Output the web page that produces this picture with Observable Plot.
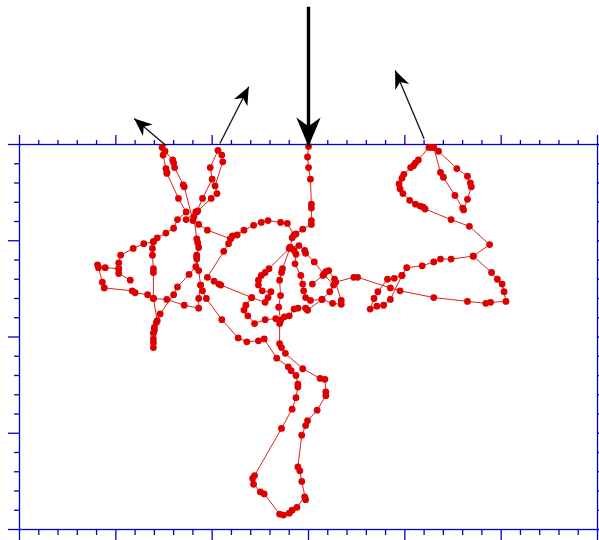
<!DOCTYPE html>
<html>
<head>
<meta charset="utf-8">
<script src="https://cdn.jsdelivr.net/npm/d3@7"></script>
<script src="https://cdn.jsdelivr.net/npm/@observablehq/plot@0.6"></script>
<style>
  html, body { margin: 0; padding: 0; background: #fff; }
</style>
</head>
<body>
<div id="chart"></div>
<script>
// Dive track, in metres: x = horizontal offset from the entry point, y = depth below the surface.
// Each piece is one continuous stretch of the recorded track as [x, depth] fixes.
const descent = [[0.0,0.2],[-0.1,1.3],[0.0,2.4],[0.2,3.6],[0.3,6.2],[0.3,6.6],[0.3,7.9],[0.3,8.3],[-0.6,8.8],[-1.3,9.3],[-1.7,9.7],[-1.9,10.7]];
const arc = [[-1.5,9.4],[-2.2,8.2],[-2.9,8.1],[-4.2,7.9],[-4.9,8.1],[-5.7,8.4],[-6.7,8.9],[-7.4,9.4],[-7.9,9.5],[-8.1,9.8],[-10.5,8.9],[-11.4,8.3],[-12.0,7.9],[-12.9,4.4],[-13.0,4.2],[-13.9,2.4],[-14.0,1.9],[-14.1,1.6],[-14.9,0.7],[-15.2,0.3],[-15.1,1.1],[-14.8,2.5],[-14.7,2.9],[-14.7,3.0],[-13.5,5.6],[-12.7,7.0],[-13.6,7.8],[-14.0,8.7],[-14.8,9.2],[-15.7,9.7],[-16.1,10.1],[-17.1,10.3],[-18.2,10.8],[-19.5,11.5],[-19.7,12.3],[-19.7,12.9],[-19.7,13.4],[-18.5,14.1]];
const west = [[-19.7,12.9],[-21.1,12.8],[-21.9,12.5],[-21.8,12.8],[-21.4,14.3],[-21.2,14.9],[-18.3,15.2],[-18.0,15.4],[-16.7,15.6],[-16.1,16.0],[-14.7,16.1],[-12.9,16.7],[-11.4,17.0],[-11.4,16.0],[-11.2,14.6],[-11.4,13.1],[-11.6,11.9],[-11.6,11.5],[-11.4,10.7],[-11.5,10.2],[-11.6,9.8],[-11.9,7.5],[-11.6,7.0],[-11.0,5.6],[-10.0,3.6],[-10.2,2.4],[-9.4,0.6],[-9.0,1.1],[-8.9,1.8],[-9.7,4.3],[-9.5,5.1],[-10.1,5.6],[-11.5,6.9],[-11.7,7.0],[-12.7,7.8]];
const spur = [[-16.1,10.1],[-16.2,10.8],[-16.2,11.5],[-16.1,12.9],[-16.1,13.3],[-16.1,16.0],[-15.7,18.3],[-16.0,19.0],[-16.1,19.6],[-16.1,20.2],[-16.1,21.1],[-16.1,20.6],[-16.0,19.3],[-15.8,18.5],[-15.4,17.6],[-14.0,15.6],[-13.6,14.8],[-12.4,13.5],[-11.7,12.7],[-11.6,11.7]];
const south = [[-11.2,14.6],[-11.0,15.2],[-10.6,16.0],[-9.0,18.2],[-7.3,20.1],[-6.4,20.5],[-5.2,20.4],[-4.6,20.2],[-3.3,22.2],[-2.1,23.1],[-1.8,23.5],[-1.3,24.0],[-1.1,24.9],[-1.1,25.2],[-1.3,26.3],[-1.7,27.5],[-2.8,29.5],[-5.6,34.4],[-5.8,34.7],[-5.7,35.3],[-5.0,36.1],[-4.6,36.3],[-3.0,38.4],[-2.6,38.5],[-2.0,38.3],[-1.7,38.0],[-1.2,37.7],[-0.4,36.6],[-0.3,36.9],[-0.7,35.0],[-0.9,33.9],[-1.1,33.5],[-0.7,30.2],[-0.3,29.2],[-0.1,28.7],[0.9,27.6],[1.8,26.1],[1.8,25.7],[1.7,24.4],[1.2,24.3],[-0.6,23.3],[-2.4,21.7],[-2.8,21.1],[-3.0,20.7],[-3.0,18.6],[-2.9,18.3],[-3.1,16.9],[-2.9,15.7],[-3.0,14.1],[-2.8,13.3],[-2.7,12.9],[-1.9,10.7]];
const hub = [[-8.1,9.8],[-8.3,10.3],[-8.8,11.1],[-10.5,13.8],[-9.8,14.2],[-9.3,14.5],[-9.1,14.6],[-5.9,15.9],[-4.5,16.4],[-4.2,15.9],[-3.9,15.3],[-4.8,15.2],[-5.2,14.6],[-5.2,14.1],[-4.9,13.6],[-4.5,13.3],[-4.1,12.9],[-2.0,10.8]];
const lowerCenter = [[-5.9,15.9],[-6.5,16.7],[-6.7,17.2],[-6.3,17.8],[-5.6,18.6],[-4.5,18.2],[-3.4,18.1],[-2.5,17.9],[-2.0,17.8],[-1.5,17.1],[-1.1,17.0],[-0.3,17.0],[-0.1,17.2]];
const centerRight = [[-1.9,10.7],[-1.0,10.5],[-0.4,11.0],[-0.3,11.3],[0.6,12.2],[1.6,13.5],[2.6,14.6],[2.2,15.3],[1.4,16.1],[0.2,16.2],[-0.3,15.9],[-0.5,15.2],[-0.6,14.5],[-0.8,13.6],[-1.4,12.4],[-1.3,11.4],[-1.5,11.0]];
const centerEast = [[-0.1,17.2],[1.4,16.1],[2.5,16.5],[3.4,16.6],[3.4,16.2],[2.8,14.3],[2.7,14.0],[2.1,13.1],[1.8,13.2],[1.5,13.6],[0.4,14.5]];
const east = [[2.8,14.3],[4.7,13.8],[5.1,13.8],[8.5,14.9],[9.5,15.2],[13.0,15.9],[16.5,16.3],[18.4,16.5],[18.9,16.4],[20.5,16.3],[20.3,15.3],[20.1,14.5],[19.6,14.0],[19.0,13.3],[17.1,11.6],[18.8,10.4],[16.7,8.5],[14.8,7.8],[12.1,6.7],[11.9,6.5],[11.6,6.4],[11.1,6.2],[10.5,5.8],[9.8,5.1],[9.5,4.6],[9.4,4.1],[9.7,3.5],[9.9,3.1],[10.6,2.4],[10.9,2.2],[11.1,1.9],[11.4,1.6],[12.5,0.3],[13.0,0.3],[13.7,2.9],[14.0,3.4],[15.2,5.3],[16.0,6.6],[16.1,6.8],[16.5,5.7],[16.9,4.4],[16.8,4.0],[16.5,3.3],[15.4,2.5],[13.5,0.7],[12.8,0.3]];
const eastReturn = [[17.1,11.6],[14.8,11.9],[13.7,11.9],[13.0,12.2],[11.8,12.6],[10.2,12.8],[9.7,13.6],[8.5,16.1],[7.8,16.7],[7.1,16.8],[6.4,17.1],[6.8,16.0],[7.2,15.3],[8.2,14.0],[8.9,13.9],[9.7,13.6]];

// Entry at the surface and the headings recorded at each surfacing.
const entry = [{x1: 0, y1: -14.3, x2: 0, y2: 0.2}];
const surfacings = [
  {x1: -14.8, y1: 0.1, x2: -18.1, y2: -2.7},
  {x1: -9.2, y1: -0.1, x2: -6.2, y2: -6.0},
  {x1: 12.0, y1: -0.6, x2: 9.0, y2: -7.7}
];

// Axis ticks: majors every 10 m, minors every 2 m.
const xMajor = [-30, -20, -10, 0, 10, 20, 30];
const yMajor = [0, 10, 20, 30, 40];
const xMinor = d3.range(-30, 31, 2).filter(v => v % 10 !== 0);
const yMinor = d3.range(0, 41, 2).filter(v => v % 10 !== 0);

const pieces = {descent, arc, west, spur, south, hub, lowerCenter, centerRight, centerEast, east, eastReturn};
const fixes = Object.entries(pieces).flatMap(([track, pts]) => pts.map(([x, y]) => ({track, x, y})));

// Notched arrowhead, tip at the origin, pointing up before rotation.
const arrowHead = {
  draw(context, size) {
    const L = Math.sqrt(size / Math.PI);
    context.moveTo(0, 0);
    context.lineTo(0.42 * L, L);
    context.lineTo(0, 0.7 * L);
    context.lineTo(-0.42 * L, L);
    context.closePath();
  }
};
const heading = d => Math.atan2(d.x2 - d.x1, -(d.y2 - d.y1)) * 180 / Math.PI;

const blue = "#0000cc";
const noText = () => "";
const axisStyle = {stroke: blue, strokeWidth: 1.3, tickFormat: noText, label: null};

const chart = Plot.plot({
  width: 599,
  height: 540,
  marginLeft: 19,
  marginRight: 2,
  marginTop: 144,
  marginBottom: 11,
  x: {domain: [-30, 30]},
  y: {domain: [0, 40], reverse: true},
  marks: [
    Plot.frame({stroke: blue, strokeWidth: 1.3}),
    Plot.axisX({...axisStyle, anchor: "top", ticks: xMajor, tickSize: 10}),
    Plot.axisX({...axisStyle, anchor: "top", ticks: xMinor, tickSize: 5}),
    Plot.axisX({...axisStyle, anchor: "bottom", ticks: xMajor, tickSize: 11}),
    Plot.axisX({...axisStyle, anchor: "bottom", ticks: xMinor, tickSize: 6}),
    Plot.axisY({...axisStyle, anchor: "left", ticks: yMajor, tickSize: 11}),
    Plot.axisY({...axisStyle, anchor: "left", ticks: yMinor, tickSize: 5}),
    Plot.axisY({...axisStyle, anchor: "right", ticks: yMajor, tickSize: 11}),
    Plot.axisY({...axisStyle, anchor: "right", ticks: yMinor, tickSize: 5}),
    Plot.line(fixes, {x: "x", y: "y", z: "track", stroke: "#e02020", strokeWidth: 1}),
    Plot.dot(fixes, {x: "x", y: "y", r: 3.4, fill: "#dd0000"}),
    Plot.link(surfacings, {x1: "x1", y1: "y1", x2: "x2", y2: "y2", stroke: "#111", strokeWidth: 1.3}),
    Plot.dot(surfacings, {x: "x2", y: "y2", symbol: arrowHead, r: 18, rotate: heading, fill: "#000", stroke: "none"}),
    Plot.link(entry, {x1: "x1", y1: "y1", x2: "x2", y2: "y2", stroke: "#000", strokeWidth: 3.4}),
    Plot.dot(entry, {x: "x2", y: "y2", symbol: arrowHead, r: 29, rotate: heading, fill: "#000", stroke: "none"})
  ]
});
document.getElementById("chart").appendChild(chart);
</script>
</body>
</html>
